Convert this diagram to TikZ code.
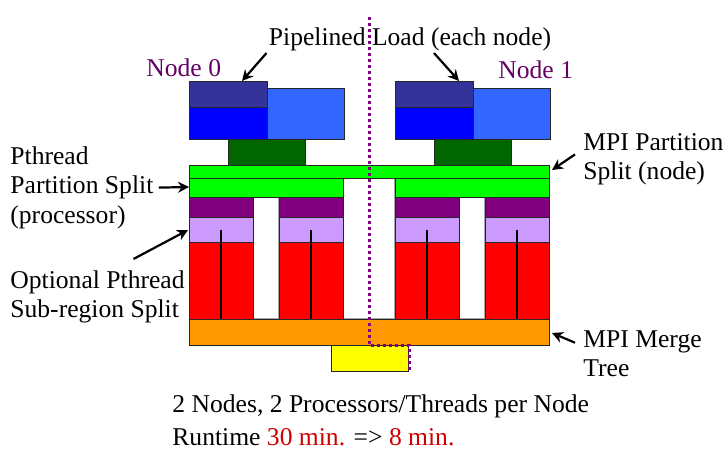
\documentclass[tikz,border=0pt]{standalone}
\usepackage{fontspec}
\setmainfont{Liberation Serif}
\usetikzlibrary{arrows.meta,calc}
\definecolor{navy}{HTML}{333399}
\definecolor{pblue}{HTML}{0000FF}
\definecolor{lblue}{HTML}{3366FF}
\definecolor{dgreen}{HTML}{006600}
\definecolor{lgreen}{HTML}{00FF00}
\definecolor{purp}{HTML}{800080}
\definecolor{lav}{HTML}{CC99FF}
\definecolor{orng}{HTML}{FF9900}
\definecolor{ylw}{HTML}{FFFF00}
\definecolor{nodetxt}{HTML}{660066}
\definecolor{rtred}{HTML}{CC0000}
\begin{document}
\begin{tikzpicture}[x=0.5pt, y=-0.5pt, font=\fontsize{12.8}{14.8}\selectfont,
  blk/.style={draw=black!85, line width=0.4pt},
  gap/.style={draw=black!35, fill=white, line width=0.7pt},
  lbl/.style={inner sep=0pt, align=left, anchor=north west},
  arr/.style={-{Stealth[length=5.5pt, width=5.5pt]}, line width=1.1pt},
  cut/.style={draw=purp, line width=1.5pt, dash pattern=on 1.5pt off 1.5pt},
  thr/.style={line width=1.1pt}]
\useasboundingbox (0,0) rectangle (728,456);
% white gaps between the processors
\draw[gap] (343,178) rectangle (395,319);
\foreach \o in {0,206} {
  \draw[gap] (253+\o,197) rectangle (279+\o,319);
  \draw[blk, fill=navy] (189+\o,81) rectangle (267+\o,107);
  \draw[blk, fill=pblue] (189+\o,107) rectangle (267+\o,139);
  \draw[blk, fill=lblue] (267+\o,88) rectangle (344+\o,139);
  \draw[blk, fill=dgreen] (228+\o,139) rectangle (305+\o,165);
  \draw[blk, fill=lgreen] (189+\o,178) rectangle (343+\o,197);
  \foreach \c in {0,90} {
    \draw[blk, fill=purp] (189+\o+\c,197) rectangle (253+\o+\c,217);
    \draw[blk, fill=lav] (189+\o+\c,217) rectangle (253+\o+\c,242);
    \draw[blk, fill=red] (189+\o+\c,242) rectangle (253+\o+\c,319);
    \draw[thr] (221+\o+\c,230) -- (221+\o+\c,319);
  }
}
\draw[blk, fill=lgreen] (189,165) rectangle (549,178);
\draw[blk, fill=orng] (189,319) rectangle (549,345);
\draw[blk, fill=ylw] (331,345) rectangle (408,371);
\draw[cut] (369,17) -- (369,345) -- (409,345) -- (409,371);

% arrow targets
\coordinate (ld0) at (242,81);
\coordinate (ld1) at (459,81);
\coordinate (ps) at (189,187);
\coordinate (sr) at (188,230);
\coordinate (mp) at (552,170);
\coordinate (mm) at (552,333);

% labels
\node[lbl, text=nodetxt] (nd0) at (146,58) {Node 0};
\node[lbl, text=nodetxt] (nd1) at (498,60) {Node 1};
\node[lbl, anchor=north] (load) at (410,27) {Pipelined Load (each node)};
\node[lbl] (pth) at (10,146) {Pthread\\Partition Split\\(processor)};
\node[lbl] (opt) at (10,270) {Optional Pthread\\Sub-region Split};
\node[lbl] (mpis) at (583,133) {MPI Partition\\Split (node)};
\node[lbl] (mpim) at (583,330) {MPI Merge\\Tree};
\node[lbl] (sum) at (172,394) {2 Nodes, 2 Processors/Threads per Node\\[1.7pt]
  Runtime \textcolor{rtred}{30 min.} => \textcolor{rtred}{8 min.}};

\draw[arr] ([shift={(-2,2)}]load.south west) -- (ld0);
\draw[arr] ([shift={(24,2)}]load.south) -- (ld1);
\draw[arr] ([shift={(5,0)}]pth.east) -- (ps);
\draw[arr] ([shift={(36,-11)}]opt.north) -- (sr);
\draw[arr] ([shift={(-8,-5)}]mpis.west) -- (mp);
\draw[arr] ([shift={(-8,-11)}]mpim.west) -- (mm);
\end{tikzpicture}
\end{document}
